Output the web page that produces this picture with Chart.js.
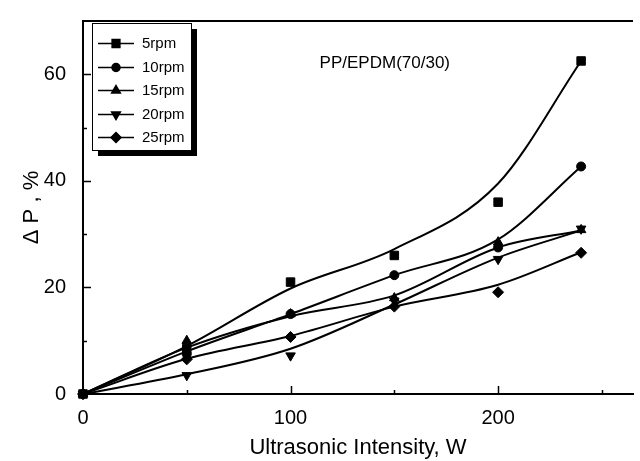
<!DOCTYPE html>
<html>
<head>
<meta charset="utf-8">
<script src="https://cdn.jsdelivr.net/npm/chart.js@4/dist/chart.umd.min.js"></script>
<style>
  html, body { margin: 0; padding: 0; background: #fff; overflow: hidden; }
  #wrap { width: 640px; height: 461px; position: relative; }
</style>
</head>
<body>
<div id="wrap"><canvas id="chart"></canvas></div>
<script>
const FONT = "'Liberation Sans Narrow', 'Liberation Sans', Arial, sans-serif";

const intensity = [0, 50, 100, 150, 200, 240];
const seriesNames = ['5rpm', '10rpm', '15rpm', '20rpm', '25rpm'];
const pointStyles = ['rect', 'circle', 'triangle', 'triangle', 'rectRot'];
const pointRotations = [0, 0, 0, 180, 0];
const pointSizes = [6, 4.5, 5.5, 5.5, 5.5];

// measured points
const measured5 = [0, 8.5, 21, 26, 36, 62.5];
const measured10 = [0, 7.5, 15, 22.3, 27.5, 42.7];
const measured15 = [0, 10, 15, 18, 28.5, 30.8];
const measured20 = [0, 3.5, 7.2, 17.5, 25.3, 31];
const measured25 = [0, 6.5, 10.7, 16.4, 19.1, 26.5];

// fitted curves at the same intensities
const fitted5 = [0, 9, 19.8, 27.2, 39.5, 62.5];
const fitted10 = [0, 8, 15, 22.3, 29, 42.7];
const fitted15 = [0, 8.7, 14.6, 18.5, 27.5, 30.7];
const fitted20 = [0, 3.7, 8.5, 16.8, 25.6, 30.7];
const fitted25 = [0, 6.6, 10.9, 16.4, 20.5, 26.6];

const xTicks = [0, 100, 200];
const yTicks = [0, 20, 40, 60];
const annotation = 'PP/EPDM(70/30)';

const measured = [measured5, measured10, measured15, measured20, measured25];
const fitted = [fitted5, fitted10, fitted15, fitted20, fitted25];

const toPoints = values => values.map((y, i) => ({ x: intensity[i], y }));

const datasets = [];
fitted.forEach((values, i) => datasets.push({
  label: seriesNames[i] + ' fit',
  data: toPoints(values),
  showLine: true,
  borderColor: '#000',
  borderWidth: 2,
  pointRadius: 0,
  cubicInterpolationMode: 'monotone',
  fill: false,
  clip: false
}));
measured.forEach((values, i) => datasets.push({
  label: seriesNames[i],
  data: toPoints(values),
  showLine: false,
  pointStyle: pointStyles[i],
  rotation: pointRotations[i],
  pointRadius: pointSizes[i],
  backgroundColor: '#000',
  borderColor: '#000',
  borderWidth: 1,
  clip: false
}));

const decorations = {
  id: 'decorations',
  afterDraw(chart) {
    const { ctx, chartArea, scales: { x, y } } = chart;
    ctx.save();
    ctx.strokeStyle = '#000';
    ctx.fillStyle = '#000';

    // top frame line
    ctx.lineWidth = 2;
    ctx.beginPath();
    ctx.moveTo(chartArea.left, chartArea.top);
    ctx.lineTo(chartArea.right, chartArea.top);
    ctx.stroke();

    // inward ticks
    ctx.lineWidth = 1.5;
    for (let v = 50; v <= 250; v += 50) {
      const px = Math.round(x.getPixelForValue(v)) + 0.5;
      const len = v % 100 === 0 ? 8 : 4;
      ctx.beginPath();
      ctx.moveTo(px, chartArea.bottom);
      ctx.lineTo(px, chartArea.bottom - len);
      ctx.stroke();
    }
    for (let v = 10; v <= 60; v += 10) {
      const py = Math.round(y.getPixelForValue(v)) + 0.5;
      const len = v % 20 === 0 ? 8 : 4;
      ctx.beginPath();
      ctx.moveTo(chartArea.left, py);
      ctx.lineTo(chartArea.left + len, py);
      ctx.stroke();
    }

    // annotation
    ctx.font = `17px ${FONT}`;
    ctx.textAlign = 'right';
    ctx.textBaseline = 'middle';
    ctx.fillText(annotation, 450, 63);

    // legend box with shadow
    const box = { x: 92, y: 23, w: 99, h: 127 };
    ctx.fillRect(box.x + 6, box.y + 6, box.w, box.h);
    ctx.fillStyle = '#fff';
    ctx.fillRect(box.x, box.y, box.w, box.h);
    ctx.lineWidth = 1;
    ctx.strokeRect(box.x + 0.5, box.y + 0.5, box.w, box.h);
    ctx.fillStyle = '#000';
    ctx.font = `15px ${FONT}`;
    ctx.textAlign = 'left';
    seriesNames.forEach((name, i) => {
      const ly = Math.round(box.y + 20 + i * 23.5) + 0.5;
      ctx.lineWidth = 1.5;
      ctx.beginPath();
      ctx.moveTo(98, ly);
      ctx.lineTo(134, ly);
      ctx.stroke();
      Chart.helpers.drawPoint(ctx, {
        pointStyle: pointStyles[i],
        rotation: pointRotations[i],
        radius: pointSizes[i] - 0.5,
        borderWidth: 1
      }, 116, ly);
      ctx.fillStyle = '#000';
      ctx.fill();
      ctx.fillText(name, 142, ly);
    });
    ctx.restore();
  }
};

new Chart(document.getElementById('chart'), {
  type: 'scatter',
  data: { datasets },
  plugins: [decorations],
  options: {
    responsive: true,
    maintainAspectRatio: false,
    animation: false,
    layout: { padding: { top: 15, right: 0, left: 0, bottom: 0 } },
    plugins: { legend: { display: false }, tooltip: { enabled: false } },
    scales: {
      x: {
        type: 'linear',
        min: 0,
        max: 265,
        afterFit: scale => { scale.height = 67; },
        afterBuildTicks: scale => { scale.ticks = xTicks.map(value => ({ value })); },
        grid: { display: false },
        border: { display: true, color: '#000', width: 2 },
        ticks: { color: '#000', padding: 4, font: { family: FONT, size: 20 } },
        title: { display: true, text: 'Ultrasonic Intensity, W', color: '#000', padding: { top: 0, bottom: 0 }, font: { family: FONT, size: 22 } }
      },
      y: {
        min: 0,
        max: 70,
        afterFit: scale => { scale.width = 83; },
        afterBuildTicks: scale => { scale.ticks = yTicks.map(value => ({ value })); },
        grid: { display: false },
        border: { display: true, color: '#000', width: 2 },
        ticks: { color: '#000', padding: 9, font: { family: FONT, size: 20 } },
        title: { display: true, text: 'Δ P , %', color: '#000', padding: { top: 19 }, font: { family: FONT, size: 22 } }
      }
    }
  }
});
</script>
</body>
</html>
